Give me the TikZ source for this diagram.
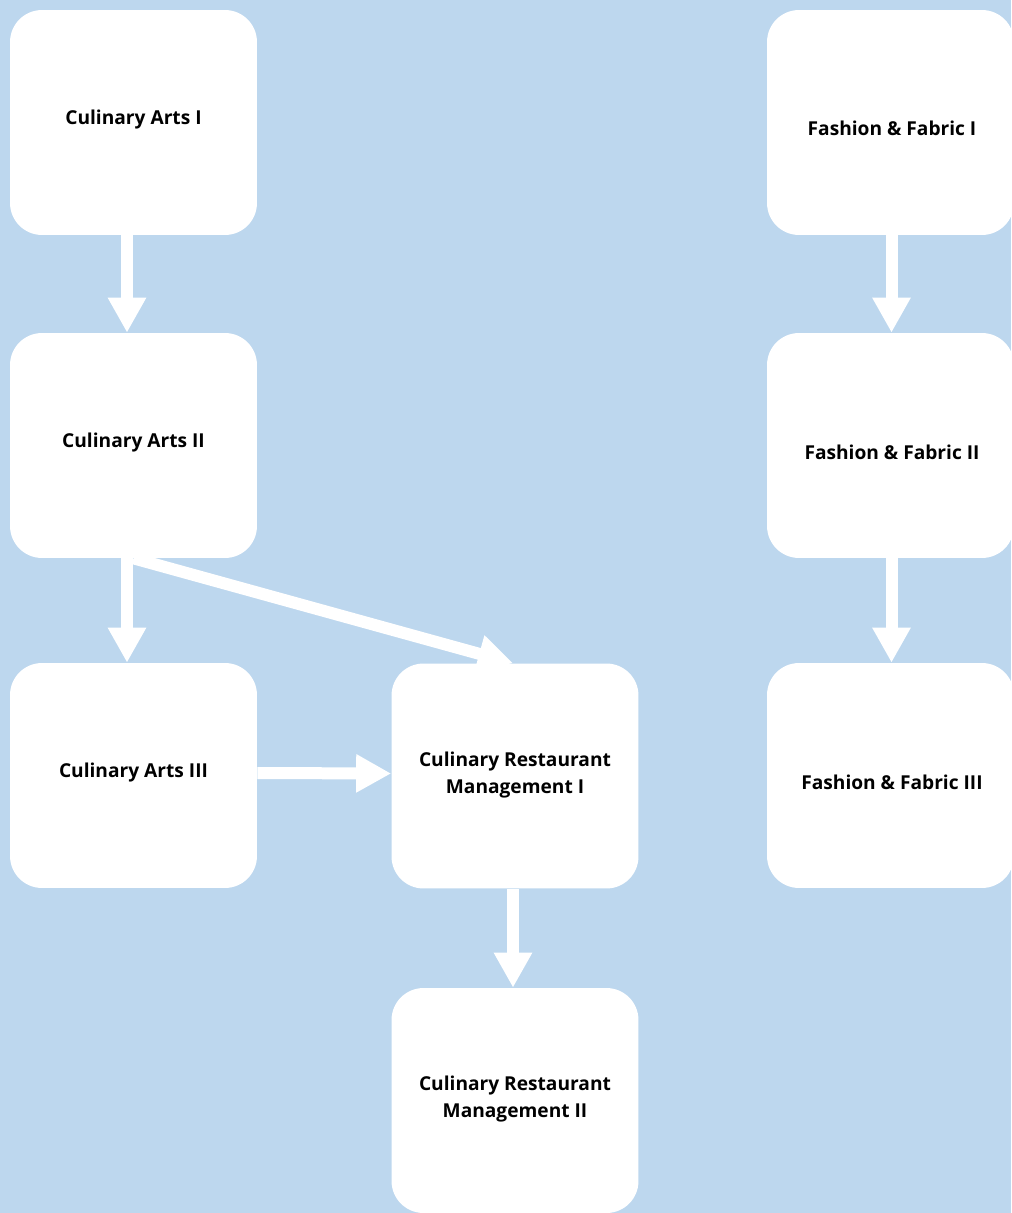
\documentclass[tikz,border=0pt]{standalone}
\usepackage{fontspec}
\setmainfont{Open Sans}
\usetikzlibrary{arrows.meta}

\definecolor{bgblue}{HTML}{BDD7EE}

\tikzset{
    course/.style={fill=white, rounded corners=0.64cm, minimum width=4.94cm, minimum height=4.5cm, inner sep=0pt},
    lbl/.style={font=\bfseries\fontsize{10.9}{15.9}\selectfont, align=center, text=black},
    flow/.style={white, line width=0.24cm, -{Triangle[width=0.72cm, length=0.7cm]}}
}

\begin{document}
\begin{tikzpicture}[x=0.02cm, y=-0.02cm]

\fill[bgblue] (0,0) rectangle (1011,1213);
\useasboundingbox (0,0) rectangle (1011,1213);

% culinary column
\node[course] (ca1) at (133.5,122.5) {};
\node[course] (ca2) at (133.5,445.5) {};
\node[course] (ca3) at (133.5,775.5) {};
\node[course] (crm1) at (515,776) {};
\node[course] (crm2) at (515,1100.5) {};

\node[lbl] (ca1t) at (133.5,120) {Culinary Arts I};
\node[lbl] (ca2t) at (133.5,443) {Culinary Arts II};
\node[lbl] (ca3t) at (133.5,773) {Culinary Arts III};
\node[lbl] (crm1t) at (515,775) {Culinary Restaurant\\Management I};
\node[lbl] (crm2t) at (515,1099) {Culinary Restaurant\\Management II};

% fashion column
\node[course] (ff1) at (890.5,122.5) {};
\node[course] (ff2) at (890.5,445.5) {};
\node[course] (ff3) at (890.5,775.5) {};

\node[lbl] (ff1t) at (892,128) {Fashion \& Fabric I};
\node[lbl] (ff2t) at (892,452) {Fashion \& Fabric II};
\node[lbl] (ff3t) at (892,782) {Fashion \& Fabric III};

\draw[flow] ([xshift=-0.13cm]ca1.south) -- ([xshift=-0.13cm]ca2.north);
\draw[flow] ([xshift=-0.13cm]ca2.south) -- ([xshift=-0.13cm]ca3.north);
\draw[flow] (ca2.south) -- ([xshift=-0.04cm]crm1.north);
\draw[flow] ([yshift=0.05cm]ca3.east) -- ([yshift=0.05cm]crm1.west);
\draw[flow] ([xshift=-0.04cm]crm1.south) -- ([xshift=-0.04cm]crm2.north);

\draw[flow] ([xshift=0.02cm]ff1.south) -- ([xshift=0.02cm]ff2.north);
\draw[flow] ([xshift=0.02cm]ff2.south) -- ([xshift=0.02cm]ff3.north);

\end{tikzpicture}
\end{document}
